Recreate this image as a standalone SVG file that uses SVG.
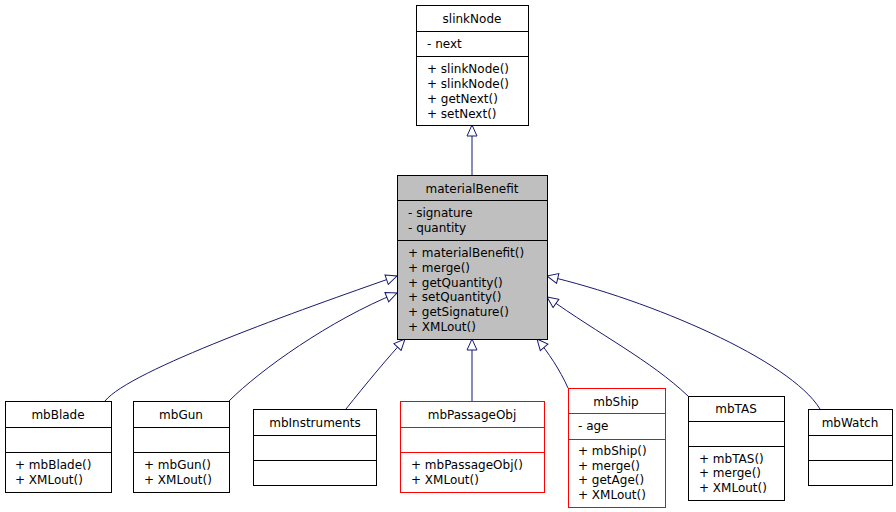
<svg xmlns="http://www.w3.org/2000/svg" width="896" height="512" viewBox="0 0 896 512">
<style>
text{font-family:"DejaVu Sans",sans-serif;font-size:12px;fill:#000}
.c{text-anchor:middle}
.b{fill:#fff;stroke:#000;stroke-width:1}
.r{fill:#fff;stroke:#f00;stroke-width:1}
.g{fill:#bfbfbf;stroke:#000;stroke-width:1}
.e{fill:none;stroke:#191970;stroke-width:1}
</style>
<defs>
<marker id="a" markerUnits="userSpaceOnUse" markerWidth="14" markerHeight="12" refX="12" refY="6" orient="auto">
<path d="M1,1 L12,6 L1,11 Z" fill="#fff" stroke="#191970"/>
</marker>
</defs>
<rect width="896" height="512" fill="#fff"/>
<g id="connectors">
<path class="e" marker-end="url(#a)" d="M472,175 L472,125"/>
<path class="e" marker-end="url(#a)" d="M105,401 C130,370 300,310 397,276"/>
<path class="e" marker-end="url(#a)" d="M229,401 C260,370 330,320 397,293"/>
<path class="e" marker-end="url(#a)" d="M346,409 C365,385 390,355 405,339"/>
<path class="e" marker-end="url(#a)" d="M472,401 L472,339"/>
<path class="e" marker-end="url(#a)" d="M568,388 C560,370 548,352 537,339"/>
<path class="e" marker-end="url(#a)" d="M688,396 C650,360 600,335 547,297"/>
<path class="e" marker-end="url(#a)" d="M820,409 C790,360 650,300 547,276"/>
</g>
<g id="slinkNode">
<rect class="b" x="416.5" y="5.5" width="112" height="120"/>
<path d="M416.5,31.5H528.5M416.5,56.5H528.5" stroke="#000"/>
<text class="c" x="472" y="23">slinkNode</text>
<text x="427" y="48">- next</text>
<text x="427" y="73">+ slinkNode()</text>
<text x="427" y="88">+ slinkNode()</text>
<text x="427" y="103">+ getNext()</text>
<text x="427" y="118">+ setNext()</text>
</g>
<g id="materialBenefit">
<rect class="g" x="397.5" y="175.5" width="150" height="164"/>
<path d="M397.5,200.5H547.5M397.5,240.5H547.5" stroke="#000"/>
<text class="c" x="472" y="193">materialBenefit</text>
<text x="408" y="217">- signature</text>
<text x="408" y="232">- quantity</text>
<text x="408" y="257">+ materialBenefit()</text>
<text x="408" y="272">+ merge()</text>
<text x="408" y="287">+ getQuantity()</text>
<text x="408" y="301">+ setQuantity()</text>
<text x="408" y="316">+ getSignature()</text>
<text x="408" y="331">+ XMLout()</text>
</g>
<g id="mbBlade">
<rect class="b" x="5.5" y="401.5" width="106" height="91"/>
<path d="M5.5,427.5H111.5M5.5,452.5H111.5" stroke="#000"/>
<text class="c" x="58" y="419">mbBlade</text>
<text x="15" y="469">+ mbBlade()</text>
<text x="15" y="484">+ XMLout()</text>
</g>
<g id="mbGun">
<rect class="b" x="133.5" y="401.5" width="96" height="91"/>
<path d="M133.5,427.5H229.5M133.5,452.5H229.5" stroke="#000"/>
<text class="c" x="181" y="419">mbGun</text>
<text x="144" y="469">+ mbGun()</text>
<text x="144" y="484">+ XMLout()</text>
</g>
<g id="mbInstruments">
<rect class="b" x="253.5" y="409.5" width="123" height="76"/>
<path d="M253.5,435.5H376.5M253.5,460.5H376.5" stroke="#000"/>
<text class="c" x="315" y="427">mbInstruments</text>
</g>
<g id="mbPassageObj">
<rect class="r" x="400.5" y="401.5" width="144" height="91"/>
<path d="M400.5,427.5H544.5M400.5,452.5H544.5" stroke="#f00"/>
<text class="c" x="472" y="419">mbPassageObj</text>
<text x="411" y="469">+ mbPassageObj()</text>
<text x="411" y="484">+ XMLout()</text>
</g>
<g id="mbShip">
<rect class="r" x="568.5" y="388.5" width="97" height="119"/>
<path d="M568.5,413.5H665.5M568.5,439.5H665.5" stroke="#f00"/>
<text class="c" x="616" y="406">mbShip</text>
<text x="578" y="430">- age</text>
<text x="578" y="455">+ mbShip()</text>
<text x="578" y="470">+ merge()</text>
<text x="578" y="484">+ getAge()</text>
<text x="578" y="499">+ XMLout()</text>
</g>
<g id="mbTAS">
<rect class="b" x="688.5" y="396.5" width="96" height="104"/>
<path d="M688.5,421.5H784.5M688.5,446.5H784.5" stroke="#000"/>
<text class="c" x="736" y="413">mbTAS</text>
<text x="699" y="463">+ mbTAS()</text>
<text x="699" y="477">+ merge()</text>
<text x="699" y="492">+ XMLout()</text>
</g>
<g id="mbWatch">
<rect class="b" x="808.5" y="409.5" width="84" height="76"/>
<path d="M808.5,435.5H892.5M808.5,460.5H892.5" stroke="#000"/>
<text class="c" x="850" y="427">mbWatch</text>
</g>
</svg>
